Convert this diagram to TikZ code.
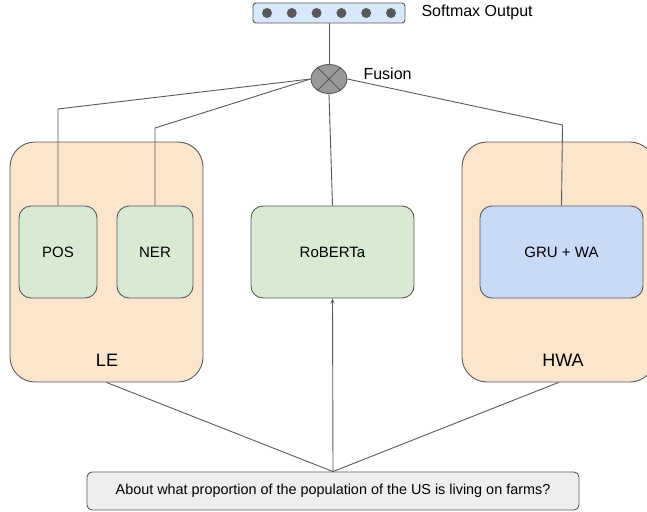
\documentclass[tikz,border=0pt]{standalone}
\usepackage{fontspec}
\setmainfont{Liberation Sans}
\usepackage{tikz}
\usetikzlibrary{positioning, calc, arrows.meta, shapes.geometric}
\definecolor{linegray}{HTML}{595959}
\definecolor{peach}{HTML}{FCE5CD}
\definecolor{sage}{HTML}{D9EAD3}
\definecolor{skyblue}{HTML}{C9DAF8}
\definecolor{paleblue}{HTML}{DAE8FC}
\definecolor{qgray}{HTML}{EEEEEE}
\tikzset{
  conn/.style={draw=linegray, line width=0.9pt},
  group/.style={draw=linegray, fill=peach, rounded corners=25pt, line width=0.9pt,
    minimum width=193pt, minimum height=240pt},
  module/.style={draw=linegray, rounded corners=12pt, line width=0.9pt,
    minimum height=92pt, font=\fontsize{15}{17}\selectfont},
  caption/.style={font=\fontsize{18}{20}\selectfont}
}

\begin{document}
\begin{tikzpicture}[x=1pt, y=-1pt]
    \useasboundingbox (0,0) rectangle (647,511);

    % output layer
    \node[draw=linegray, fill=paleblue, rounded corners=3pt, line width=0.9pt,
      minimum width=152pt, minimum height=20pt, inner sep=0pt] (softmax) at (329,13) {};
    \foreach \i in {0,...,5}
      \fill[linegray] (267+24.8*\i,13) circle (5pt);
    \node[anchor=west, font=\fontsize{16}{18}\selectfont] (softmaxlbl) at (418,12) {Softmax Output};

    % fusion
    \node[ellipse, draw=linegray, fill=gray!80, line width=0.9pt,
      minimum width=36pt, minimum height=29pt, inner sep=0pt] (fusion) at (329,79) {};
    \draw[linegray, line width=0.9pt] (fusion.45) -- (fusion.225);
    \draw[linegray, line width=0.9pt] (fusion.135) -- (fusion.315);
    \node[anchor=west, font=\fontsize{16}{18}\selectfont] (fusionlbl) at (360,74) {Fusion};

    % groups
    \node[group] (le) at (106.5,262) {};
    \node[caption] (lelbl) at (107,360) {LE};
    \node[group] (hwa) at (558.5,262) {};
    \node[caption] (hwalbl) at (563,360) {HWA};

    % modules
    \node[module, fill=sage, minimum width=78pt] (pos) at (58,252) {POS};
    \node[module, fill=sage, minimum width=76pt] (ner) at (155,252) {NER};
    \node[module, fill=sage, minimum width=163pt] (roberta) at (332.5,252) {RoBERTa};
    \node[module, fill=skyblue, minimum width=163pt] (gru) at (561.5,252) {GRU + WA};

    % question
    \node[draw=linegray, fill=qgray, rounded corners=5pt, line width=0.9pt,
      minimum width=492pt, minimum height=38pt,
      font=\fontsize{14.4}{16}\selectfont] (question) at (333,491)
      {About what proportion of the population of the US is living on farms?};

    \coordinate (posup) at (58,109);
    \coordinate (nerup) at (155,128);
    \coordinate (gruup) at (562.5,125);

    \path[conn]
    (softmax.south) edge (fusion.north)
    (fusion.south) edge (roberta.north)
    (le.south) edge (question.north)
    (hwa.south) edge (question.north);
    \draw[conn] (pos.north) -- (posup) -- (fusion.west);
    \draw[conn] (ner.north) -- (nerup) -- (fusion.west);
    \draw[conn] (gru.north) -- (gruup) -- (fusion.east);
    \draw[conn, -{Stealth[length=5pt, width=4pt]}] (question.north) -- (roberta.south);
  \end{tikzpicture}
\end{document}
